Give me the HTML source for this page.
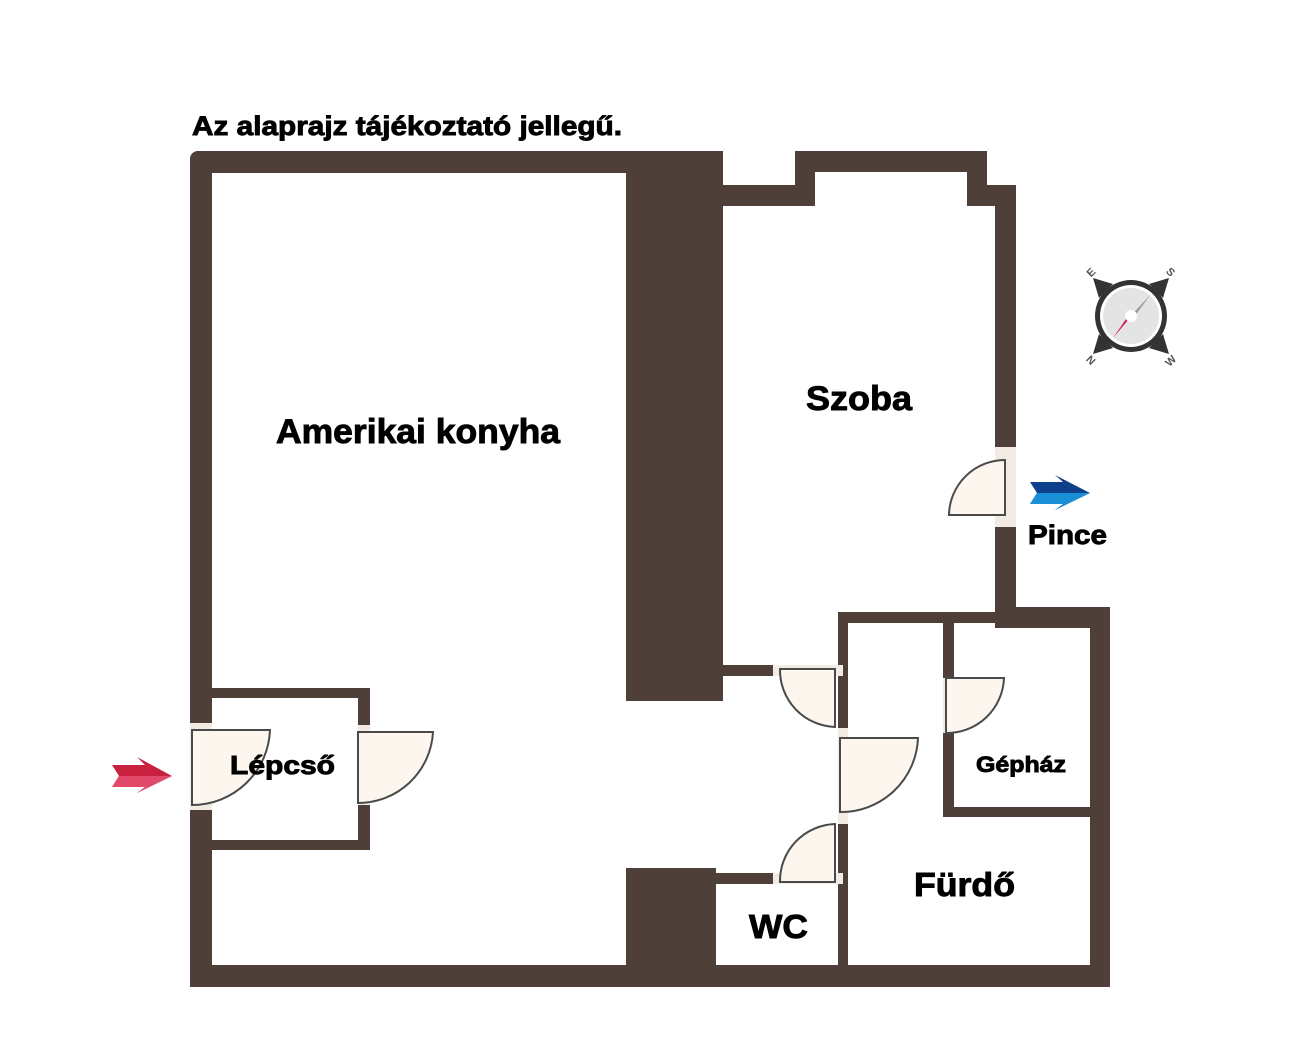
<!DOCTYPE html>
<html><head><meta charset="utf-8"><style>
html,body{margin:0;padding:0;background:#fff;}
svg{display:block;}
text{font-family:"Liberation Sans",Arial,sans-serif;font-weight:bold;fill:#000;stroke:#000;stroke-width:0.9;}
</style></head><body>
<svg width="1300" height="1060" viewBox="0 0 1300 1060" xmlns="http://www.w3.org/2000/svg">
<g fill="#4e4038">
<rect x="190" y="151" width="533" height="22" rx="8"/>
<rect x="190" y="151" width="22" height="40" rx="8"/>
<rect x="190" y="170" width="22" height="553"/>
<rect x="190" y="810" width="22" height="177"/>
<rect x="190" y="965" width="920" height="22"/>
<rect x="626" y="151" width="97" height="550"/>
<rect x="626" y="868" width="90" height="110"/>
<circle cx="708" cy="876" r="8"/>
<rect x="723" y="185" width="90" height="21"/>
<rect x="795" y="151" width="192" height="21" rx="8"/>
<rect x="795" y="151" width="20" height="55"/>
<rect x="967" y="151" width="20" height="55"/>
<rect x="967" y="185" width="49" height="21"/>
<rect x="995" y="185" width="21" height="262"/>
<rect x="995" y="527" width="21" height="101"/>
<rect x="995" y="607" width="115" height="21"/>
<rect x="838" y="612" width="170" height="11"/>
<rect x="1090" y="607" width="20" height="380"/>
<rect x="723" y="665" width="52" height="11"/>
<rect x="838" y="612" width="10" height="116"/>
<rect x="838" y="824" width="10" height="163"/>
<rect x="716" y="873" width="64" height="11"/>
<rect x="943" y="612" width="11" height="66"/>
<rect x="943" y="733" width="11" height="84"/>
<rect x="943" y="807" width="167" height="10"/>
<rect x="212" y="688" width="158" height="10"/>
<rect x="212" y="840" width="158" height="10"/>
<rect x="358" y="688" width="12" height="37"/>
<rect x="358" y="805" width="12" height="45"/>
</g>
<g fill="#f1ebe4">
<rect x="995" y="447" width="21" height="80"/>
<rect x="190" y="723" width="22" height="87"/>
<rect x="358" y="725" width="12" height="80"/>
<rect x="773" y="665" width="70" height="11"/>
<rect x="773" y="873" width="70" height="11"/>
<rect x="838" y="728" width="10" height="96"/>
<rect x="943" y="678" width="11" height="55"/>
</g>
<g fill="#fcf6ef" stroke="#4a4a4a" stroke-width="2">
<path d="M1005 460 L1005 515 L949 515 A56 56 0 0 1 1005 460 Z"/>
<path d="M192 730 L270 730 A78 78 0 0 1 192 805 Z"/>
<path d="M358 732 L433 732 A75 75 0 0 1 358 803 Z"/>
<path d="M780 669 L835 669 L835 727 A57 57 0 0 1 780 669 Z"/>
<path d="M840 738 L918 738 A77 77 0 0 1 840 812 Z"/>
<path d="M835 824 L835 882 L780 882 A57 57 0 0 1 835 824 Z"/>
<path d="M946 678 L1004 678 A57 57 0 0 1 946 733 Z"/>
</g>
<polygon points="112,765 145,765 137,757 172,776 137,793 145,787 112,787 119,776" fill="#c8203f"/>
<polygon points="119,776 172,776 137,793 145,787 112,787" fill="#e24a6b"/>
<polygon points="1030,482 1063,482 1055,475 1090,493 1055,510 1063,504 1030,504 1037,493" fill="#0d3f8a"/>
<polygon points="1037,493 1090,493 1055,510 1063,504 1030,504" fill="#1a8fd6"/>
<g transform="translate(1131,316)">
<polygon points="-38,-38 -18,-32 -32,-18" fill="#333"/>
<polygon points="38,-38 18,-32 32,-18" fill="#333"/>
<polygon points="-38,38 -18,32 -32,18" fill="#333"/>
<polygon points="38,38 18,32 32,18" fill="#333"/>
<circle r="36" fill="#333"/>
<circle r="31" fill="#fff"/>
<circle r="28" fill="#e4e4e4"/>
<polygon points="20,-22 6,-3 -2,2" fill="#999"/>
<polygon points="-18,22 -5,3 3,-3" fill="#d6184b"/>
<circle r="6" fill="#fff"/>
<g style="font-size:11px">
<text x="-44" y="-40" style="fill:#555;stroke:none" transform="rotate(-45 -40 -44)">E</text>
<text x="36" y="-40" style="fill:#555;stroke:none" transform="rotate(45 40 -44)">S</text>
<text x="-44" y="48" style="fill:#555;stroke:none" transform="rotate(45 -40 44)">N</text>
<text x="34" y="48" style="fill:#555;stroke:none" transform="rotate(-45 40 44)">W</text>
</g>
</g>
<text x="192" y="135" font-size="27" textLength="430" lengthAdjust="spacingAndGlyphs">Az alaprajz tájékoztató jellegű.</text>
<text x="276" y="443" font-size="34" textLength="284" lengthAdjust="spacingAndGlyphs">Amerikai konyha</text>
<text x="806" y="410" font-size="34" textLength="106" lengthAdjust="spacingAndGlyphs">Szoba</text>
<text x="230" y="774" font-size="26" textLength="105" lengthAdjust="spacingAndGlyphs">Lépcső</text>
<text x="976" y="772" font-size="22" textLength="90" lengthAdjust="spacingAndGlyphs">Gépház</text>
<text x="914" y="896" font-size="33" textLength="101" lengthAdjust="spacingAndGlyphs">Fürdő</text>
<text x="749" y="938" font-size="33" textLength="59" lengthAdjust="spacingAndGlyphs">WC</text>
<text x="1028" y="544" font-size="27" textLength="79" lengthAdjust="spacingAndGlyphs">Pince</text>
</svg>
</body></html>
